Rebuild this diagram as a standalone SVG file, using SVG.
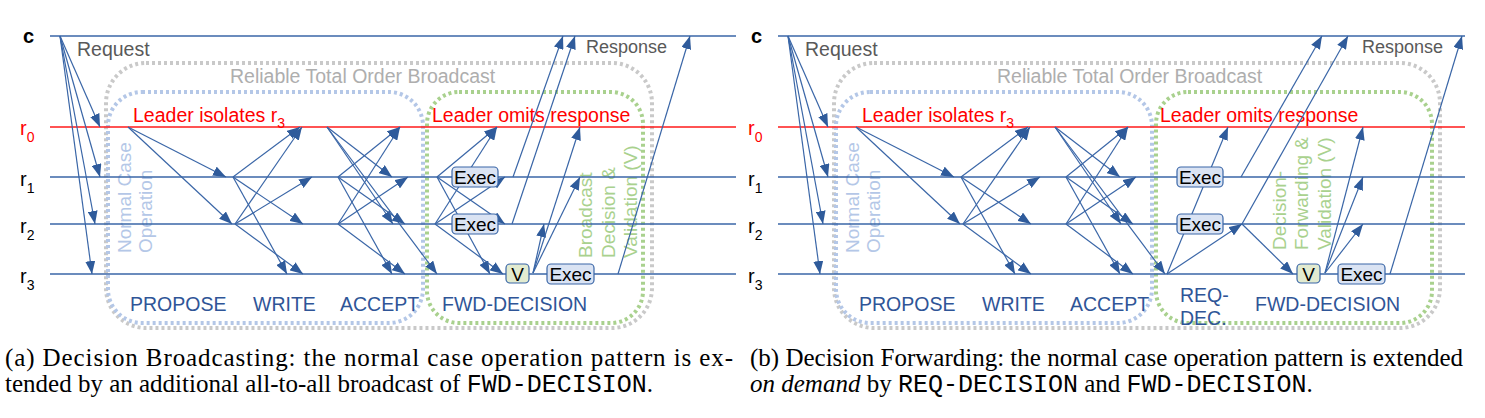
<svg xmlns="http://www.w3.org/2000/svg" width="1485" height="418" viewBox="0 0 1485 418">
<style>
.pl{stroke:#3a66a7;stroke-width:1.3;fill:none}
.pr{stroke:#ff1a1a;stroke-width:1.3;fill:none}
.m{stroke:#3a66a7;stroke-width:1.2;fill:none;marker-end:url(#ah)}
.lbl{font-family:"Liberation Sans",Arial,sans-serif;font-size:20px;fill:#000}
.cl{font-weight:bold}
.sub{font-size:14px}
.red{font-family:"Liberation Sans",Arial,sans-serif;font-size:19.5px;fill:#ff0000}
.gray{font-family:"Liberation Sans",Arial,sans-serif;font-size:18px;fill:#595959}
.rtob{font-family:"Liberation Sans",Arial,sans-serif;font-size:19.5px;fill:#aeaeae}
.phase{font-family:"Liberation Sans",Arial,sans-serif;font-size:19.5px;fill:#2f5597}
.nco{font-family:"Liberation Sans",Arial,sans-serif;font-size:19px;fill:#b4c7e7}
.grn{font-family:"Liberation Sans",Arial,sans-serif;font-size:19px;fill:#a9d18e}
.boxg{fill:none;stroke:#c9c9c9;stroke-width:4;stroke-dasharray:3 3}
.boxb{fill:none;stroke:#b4c7e7;stroke-width:4;stroke-dasharray:3 3}
.boxgr{fill:none;stroke:#a9d18e;stroke-width:4;stroke-dasharray:3 3}
.ex{fill:#dae3f3;stroke:#3a66a7;stroke-width:1.2}
.vb{fill:#e2ebd0;stroke:#3a66a7;stroke-width:1.2}
.et{font-family:"Liberation Sans",Arial,sans-serif;font-size:19px;fill:#000;text-anchor:middle}
.cap{font-family:"Liberation Serif","Times New Roman",serif;font-size:25px;fill:#000}
.mono{font-family:"Liberation Mono","Courier New",monospace}
</style>
<defs>
<marker id="ah" viewBox="0 0 13 10" refX="13" refY="5" markerWidth="13" markerHeight="10" markerUnits="userSpaceOnUse" orient="auto"><path d="M0,0L13,5L0,10z" fill="#2f5b9b"/></marker>
</defs>

<!-- ===== LEFT DIAGRAM ===== -->
<g id="left-frames">
<rect class="boxg" x="106" y="63" width="546" height="265" rx="40"/>
<rect class="boxb" x="108" y="92" width="315" height="231" rx="34"/>
<rect class="boxgr" x="427" y="92" width="216" height="231" rx="32"/>
<text class="rtob" x="230" y="83">Reliable Total Order Broadcast</text>
<text class="nco" transform="rotate(-90 131 253)" x="131" y="253">Normal Case</text>
<text class="nco" transform="rotate(-90 152 253)" x="152" y="253">Operation</text>
<text class="grn" transform="rotate(-90 592 258)" x="592" y="258">Broadcast</text>
<text class="grn" transform="rotate(-90 615 258)" x="615" y="258">Decision &amp;</text>
<text class="grn" transform="rotate(-90 637 258)" x="637" y="258">Validation (V)</text>
</g>

<g id="left-processes">
<line class="pl" x1="50" y1="36" x2="736" y2="36"/>
<line class="pr" x1="50" y1="127" x2="736" y2="127"/>
<line class="pl" x1="50" y1="177" x2="736" y2="177"/>
<line class="pl" x1="50" y1="224" x2="736" y2="224"/>
<line class="pl" x1="50" y1="274" x2="736" y2="274"/>
<text class="lbl cl" x="23" y="43">c</text>
<text class="lbl" x="20" y="135" style="fill:#ff0000">r<tspan class="sub" dy="7">0</tspan></text>
<text class="lbl" x="20" y="186">r<tspan class="sub" dy="7">1</tspan></text>
<text class="lbl" x="20" y="233">r<tspan class="sub" dy="7">2</tspan></text>
<text class="lbl" x="20" y="283">r<tspan class="sub" dy="7">3</tspan></text>
</g>

<g id="left-labels">
<text class="gray" x="77" y="56" style="font-size:19.5px">Request</text>
<text class="gray" x="586" y="53">Response</text>
<text class="red" x="133" y="122">Leader isolates r<tspan style="font-size:14px" dy="6">3</tspan></text>
<text class="red" x="432" y="122">Leader omits response</text>
<text class="phase" x="130" y="311">PROPOSE</text>
<text class="phase" x="253" y="311">WRITE</text>
<text class="phase" x="340" y="311">ACCEPT</text>
<text class="phase" x="442" y="311">FWD-DECISION</text>
</g>

<g id="left-connectors">
<line class="m" x1="60" y1="36" x2="100" y2="127"/>
<line class="m" x1="60" y1="36" x2="100" y2="177"/>
<line class="m" x1="60" y1="36" x2="95" y2="224"/>
<line class="m" x1="60" y1="36" x2="92" y2="274"/>
<line class="m" x1="128" y1="127" x2="226" y2="177"/>
<line class="m" x1="128" y1="127" x2="232" y2="224"/>
<line class="m" x1="233" y1="177" x2="300" y2="127"/>
<line class="m" x1="233" y1="177" x2="303" y2="224"/>
<line class="m" x1="233" y1="177" x2="287" y2="274"/>
<line class="m" x1="235" y1="224" x2="302" y2="127"/>
<line class="m" x1="235" y1="224" x2="312" y2="177"/>
<line class="m" x1="235" y1="224" x2="303" y2="274"/>
<line class="m" x1="327" y1="127" x2="392" y2="177"/>
<line class="m" x1="327" y1="127" x2="393" y2="224"/>
<line class="m" x1="327" y1="127" x2="437" y2="274"/>
<line class="m" x1="338" y1="177" x2="400" y2="127"/>
<line class="m" x1="338" y1="177" x2="405" y2="224"/>
<line class="m" x1="338" y1="177" x2="392" y2="274"/>
<line class="m" x1="338" y1="224" x2="400" y2="127"/>
<line class="m" x1="338" y1="224" x2="408" y2="177"/>
<line class="m" x1="338" y1="224" x2="405" y2="274"/>
<line class="m" x1="437" y1="177" x2="497" y2="127"/>
<line class="m" x1="437" y1="177" x2="505" y2="224"/>
<line class="m" x1="437" y1="177" x2="490" y2="274"/>
<line class="m" x1="435" y1="224" x2="497" y2="127"/>
<line class="m" x1="435" y1="224" x2="505" y2="177"/>
<line class="m" x1="435" y1="224" x2="503" y2="274"/>
<line class="m" x1="513" y1="177" x2="563" y2="36"/>
<line class="m" x1="512" y1="224" x2="575" y2="36"/>
<line class="m" x1="533" y1="273" x2="544" y2="224"/>
<line class="m" x1="533" y1="273" x2="580" y2="177"/>
<line class="m" x1="533" y1="273" x2="580" y2="127"/>
<line class="m" x1="618" y1="274" x2="690" y2="36"/>
</g>

<g id="left-exec-r1"><rect class="ex" x="452" y="167" width="46" height="20" rx="4"/><text class="et" x="475" y="184">Exec</text></g>
<g id="left-exec-r2"><rect class="ex" x="452" y="214" width="46" height="20" rx="4"/><text class="et" x="475" y="231">Exec</text></g>
<g id="left-v-r3"><rect class="vb" x="506" y="264" width="23" height="19" rx="4"/><text class="et" x="517.5" y="281">V</text></g>
<g id="left-exec-r3"><rect class="ex" x="547" y="264" width="47" height="20" rx="4"/><text class="et" x="570.5" y="281">Exec</text></g>

<!-- ===== RIGHT DIAGRAM ===== -->
<g id="right-frames">
<rect class="boxg" x="834" y="63" width="606" height="265" rx="40"/>
<rect class="boxb" x="836" y="92" width="316" height="231" rx="34"/>
<rect class="boxgr" x="1156" y="92" width="276" height="231" rx="32"/>
<text class="rtob" x="997" y="83">Reliable Total Order Broadcast</text>
<text class="nco" transform="rotate(-90 859 253)" x="859" y="253">Normal Case</text>
<text class="nco" transform="rotate(-90 880 253)" x="880" y="253">Operation</text>
<text class="grn" transform="rotate(-90 1286 250)" x="1286" y="250">Decision-</text>
<text class="grn" transform="rotate(-90 1308 250)" x="1308" y="250">Forwarding &amp;</text>
<text class="grn" transform="rotate(-90 1331 250)" x="1331" y="250">Validation (V)</text>
</g>

<g id="right-processes">
<line class="pl" x1="778" y1="36" x2="1465" y2="36"/>
<line class="pr" x1="778" y1="127" x2="1465" y2="127"/>
<line class="pl" x1="778" y1="177" x2="1465" y2="177"/>
<line class="pl" x1="778" y1="224" x2="1465" y2="224"/>
<line class="pl" x1="778" y1="274" x2="1465" y2="274"/>
<text class="lbl cl" x="751" y="43">c</text>
<text class="lbl" x="748" y="135" style="fill:#ff0000">r<tspan class="sub" dy="7">0</tspan></text>
<text class="lbl" x="748" y="186">r<tspan class="sub" dy="7">1</tspan></text>
<text class="lbl" x="748" y="233">r<tspan class="sub" dy="7">2</tspan></text>
<text class="lbl" x="748" y="283">r<tspan class="sub" dy="7">3</tspan></text>
</g>

<g id="right-labels">
<text class="gray" x="805" y="56" style="font-size:19.5px">Request</text>
<text class="gray" x="1362" y="53">Response</text>
<text class="red" x="862" y="122">Leader isolates r<tspan style="font-size:14px" dy="6">3</tspan></text>
<text class="red" x="1160" y="122">Leader omits response</text>
<text class="phase" x="859" y="311">PROPOSE</text>
<text class="phase" x="982" y="311">WRITE</text>
<text class="phase" x="1070" y="311">ACCEPT</text>
<text class="phase" x="1180" y="302">REQ-</text>
<text class="phase" x="1180" y="325">DEC.</text>
<text class="phase" x="1255" y="311">FWD-DECISION</text>
</g>

<g id="right-connectors">
<line class="m" x1="788" y1="36" x2="828" y2="127"/>
<line class="m" x1="788" y1="36" x2="828" y2="177"/>
<line class="m" x1="788" y1="36" x2="823" y2="224"/>
<line class="m" x1="788" y1="36" x2="820" y2="274"/>
<line class="m" x1="856" y1="127" x2="954" y2="177"/>
<line class="m" x1="856" y1="127" x2="960" y2="224"/>
<line class="m" x1="961" y1="177" x2="1028" y2="127"/>
<line class="m" x1="961" y1="177" x2="1031" y2="224"/>
<line class="m" x1="961" y1="177" x2="1015" y2="274"/>
<line class="m" x1="963" y1="224" x2="1030" y2="127"/>
<line class="m" x1="963" y1="224" x2="1040" y2="177"/>
<line class="m" x1="963" y1="224" x2="1031" y2="274"/>
<line class="m" x1="1055" y1="127" x2="1120" y2="177"/>
<line class="m" x1="1055" y1="127" x2="1121" y2="224"/>
<line class="m" x1="1055" y1="127" x2="1165" y2="274"/>
<line class="m" x1="1066" y1="177" x2="1128" y2="127"/>
<line class="m" x1="1066" y1="177" x2="1133" y2="224"/>
<line class="m" x1="1066" y1="177" x2="1120" y2="274"/>
<line class="m" x1="1066" y1="224" x2="1128" y2="127"/>
<line class="m" x1="1066" y1="224" x2="1136" y2="177"/>
<line class="m" x1="1066" y1="224" x2="1133" y2="274"/>
<line class="m" x1="1167" y1="274" x2="1228" y2="127"/>
<line class="m" x1="1167" y1="274" x2="1242" y2="224"/>
<line class="m" x1="1241" y1="177" x2="1322" y2="36"/>
<line class="m" x1="1242" y1="224" x2="1348" y2="36"/>
<line class="m" x1="1242" y1="224" x2="1293" y2="274"/>
<line class="m" x1="1325" y1="273" x2="1363" y2="224"/>
<line class="m" x1="1325" y1="273" x2="1363" y2="177"/>
<line class="m" x1="1325" y1="273" x2="1363" y2="127"/>
<line class="m" x1="1390" y1="274" x2="1462" y2="36"/>
</g>

<g id="right-exec-r1"><rect class="ex" x="1177" y="167" width="46" height="20" rx="4"/><text class="et" x="1200" y="184">Exec</text></g>
<g id="right-exec-r2"><rect class="ex" x="1177" y="214" width="46" height="20" rx="4"/><text class="et" x="1200" y="231">Exec</text></g>
<g id="right-v-r3"><rect class="vb" x="1297" y="264" width="23" height="19" rx="4"/><text class="et" x="1308.5" y="281">V</text></g>
<g id="right-exec-r3"><rect class="ex" x="1338" y="264" width="47" height="20" rx="4"/><text class="et" x="1361.5" y="281">Exec</text></g>

<!-- ===== CAPTIONS ===== -->
<g id="captions">
<text class="cap" x="5" y="366" textLength="728" lengthAdjust="spacing">(a) Decision Broadcasting: the normal case operation pattern is ex-</text>
<text class="cap" x="5" y="392">tended by an additional all-to-all broadcast of <tspan class="mono">FWD-DECISION</tspan>.</text>
<text class="cap" x="750" y="366" textLength="713" lengthAdjust="spacing">(b) Decision Forwarding: the normal case operation pattern is extended</text>
<text class="cap" x="750" y="392"><tspan font-style="italic">on demand</tspan> by <tspan class="mono">REQ-DECISION</tspan> and <tspan class="mono">FWD-DECISION</tspan>.</text>
</g>
</svg>
